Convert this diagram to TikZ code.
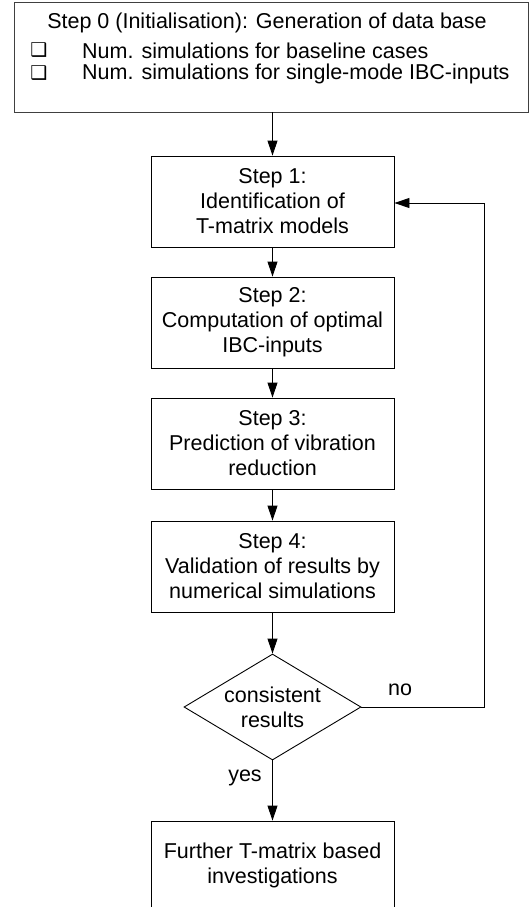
\documentclass[tikz,border=0pt]{standalone}
\usepackage{fontspec}
\setmainfont{Liberation Sans}
\newfontfamily\dingfont{DejaVu Sans}
\usetikzlibrary{shapes.geometric,arrows.meta}
\begin{document}
\begin{tikzpicture}[x=1pt,y=-1pt,
  every node/.style={font=\fontsize{21.5}{25}\selectfont},
  stepbox/.style={draw=black,line width=0.9pt,minimum width=243pt,minimum height=91pt,align=center,inner sep=0pt},
  decision/.style={draw=black,line width=0.9pt,diamond,shape aspect=1.67,minimum width=177pt,minimum height=106pt,align=center,inner sep=0pt},
  conn/.style={draw=black,line width=0.9pt,-{Triangle[length=15pt,width=10pt]}},
  lbl/.style={inner sep=0pt},
  bullet/.style={inner sep=0pt,font=\dingfont\fontsize{19}{19}\selectfont}
]
\useasboundingbox (0,0) rectangle (529,907);
\clip (0,0) rectangle (529,907);
% top box
\node[draw=black!75,line width=0.9pt,minimum width=514pt,minimum height=110pt,inner sep=0pt] (s0) at (271,57) {};
\node[lbl] (s0t) at (267,23) {Step 0 (Initialisation): Generation of data base};
\node[bullet] (b1) at (39,50) {❑};
\node[lbl,anchor=west] (t1) at (82,51) {Num. simulations for baseline cases};
\node[bullet] (b2) at (39,73) {❑};
\node[lbl,anchor=west] (t2) at (82,74) {Num. simulations for single-mode IBC-inputs};
% steps
\node[stepbox] (s1) at (272.5,201.5) {Step 1:\\Identification of\\T-matrix models};
\node[stepbox] (s2) at (272.5,322.5) {Step 2:\\Computation of optimal\\IBC-inputs};
\node[stepbox] (s3) at (272.5,443.5) {Step 3:\\Prediction of vibration\\reduction};
\node[stepbox] (s4) at (272.5,566.5) {Step 4:\\Validation of results by\\numerical simulations};
\node[decision] (d) at (272.5,707) {consistent\\results};
\node[stepbox,minimum height=88pt] (s5) at (272.5,865) {Further T-matrix based\\investigations};
\coordinate (c1) at (484,707);
\coordinate (c2) at (484,203);
% connectors
\draw[conn] (s0.south -| s1.north) -- (s1.north);
\draw[conn] (s1) -- (s2);
\draw[conn] (s2) -- (s3);
\draw[conn] (s3) -- (s4);
\draw[conn] (s4) -- (d);
\draw[conn] (d) -- (s5);
\draw[conn] (d.east) -- (c1) -- (c2) -- (s1.east |- c2);
\node[lbl] (no) at (400,690) {no};
\node[lbl] (yes) at (245,778) {yes};
\end{tikzpicture}
\end{document}
